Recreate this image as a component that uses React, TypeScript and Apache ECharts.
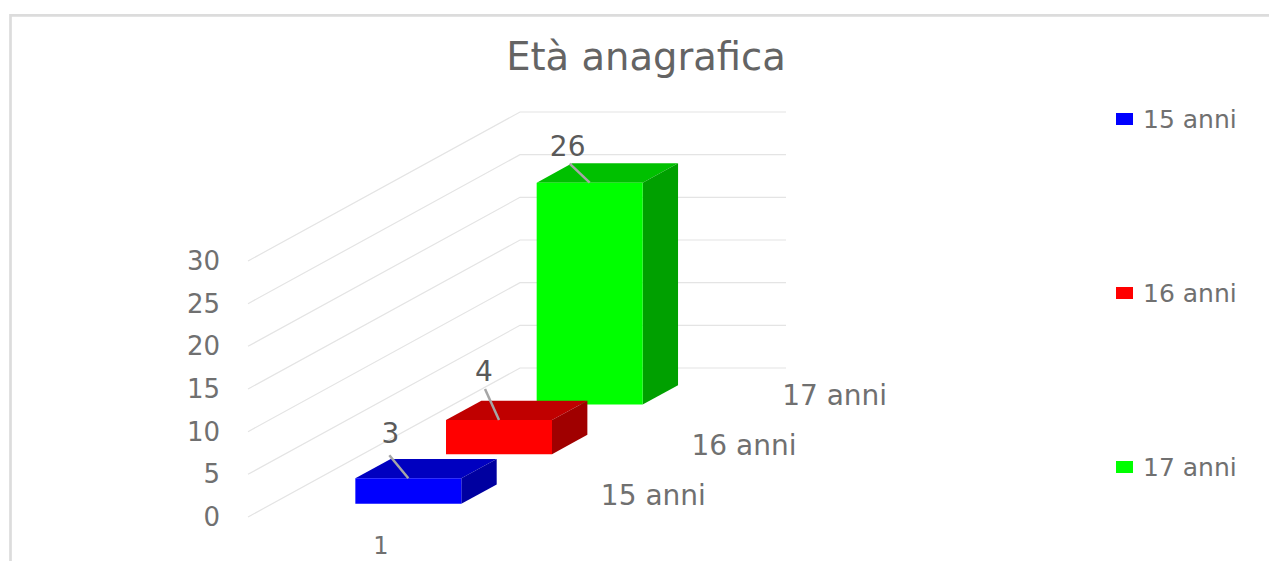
import React, { useEffect, useRef } from "react";
import * as echarts from "echarts";

const chartTitle = "Età anagrafica";
const categories = ["1"];
const seriesNames = ["15 anni", "16 anni", "17 anni"];
const seriesValues = [3, 4, 26];
const valueTicks = [0, 5, 10, 15, 20, 25, 30];

const frontColors = ["#0000ff", "#ff0000", "#00ff00"];
const topColors = ["#0000c0", "#c00000", "#00c000"];
const sideColors = ["#0000a0", "#a00000", "#00a000"];

const FONT = '"DejaVu Sans", sans-serif';
const TEXT_COLOR = "#707070";
const DEPTH_DX = 272 / 3;
const DEPTH_DY = -149 / 3;
const BAR_FRONT = 0.285;
const BAR_DEPTH = 0.39;
const BAR_HALF_WIDTH = 53;
const BAR_SHIFT_X = 1.5;
const BAR_SHIFT_Y = 1;
// leader line end and label centre relative to the middle of the bar's front top edge
const leaderOffsets = [[-19, -23], [-14, -31], [-20, -19]];
const labelOffsets = [[-18, -45], [-15, -49], [-22, -36]];

function barSeries(name: string, i: number) {
  return {
    type: "custom",
    name,
    z: 10 - i,
    clip: false,
    silent: true,
    itemStyle: { color: frontColors[i] },
    encode: { x: 0, y: 1 },
    data: [[0, seriesValues[i]]],
    renderItem: (_params: any, api: any) => {
      const base = api.coord([api.value(0), 0]);
      const top = api.coord([api.value(0), api.value(1)]);
      const d0 = i + BAR_FRONT;
      const ox = d0 * DEPTH_DX + BAR_SHIFT_X;
      const oy = d0 * DEPTH_DY + BAR_SHIFT_Y;
      const ex = BAR_DEPTH * DEPTH_DX;
      const ey = BAR_DEPTH * DEPTH_DY;
      const l = base[0] + ox - BAR_HALF_WIDTH;
      const r = base[0] + ox + BAR_HALF_WIDTH;
      const b = base[1] + oy;
      const t = top[1] + oy;
      const mx = (l + r) / 2;
      const poly = (points: number[][], fill: string) => ({
        type: "polygon",
        shape: { points },
        style: { fill },
      });
      return {
        type: "group",
        children: [
          poly([[l, t], [r, t], [r + ex, t + ey], [l + ex, t + ey]], topColors[i]),
          poly([[r, t], [r + ex, t + ey], [r + ex, b + ey], [r, b]], sideColors[i]),
          poly([[l, t], [r, t], [r, b], [l, b]], frontColors[i]),
          {
            type: "line",
            shape: { x1: mx, y1: t, x2: mx + leaderOffsets[i][0], y2: t + leaderOffsets[i][1] },
            style: { stroke: "#a6a6a6", lineWidth: 2.5 },
          },
          {
            type: "text",
            x: mx + labelOffsets[i][0],
            y: t + labelOffsets[i][1],
            style: {
              text: String(api.value(1)),
              fontSize: 28,
              fontFamily: FONT,
              fill: "#5a5a5a",
              align: "center",
              verticalAlign: "middle",
            },
          },
        ],
      };
    },
  };
}

export default function App() {
  const ref = useRef<HTMLDivElement>(null);

  useEffect(() => {
    if (!ref.current) return;
    const chart = echarts.init(ref.current, undefined, { renderer: "svg" });
    chart.setOption({
      animation: false,
      backgroundColor: "#ffffff",
      title: {
        text: chartTitle,
        left: 641,
        top: 32,
        textAlign: "center",
        textStyle: { fontSize: 38.5, fontWeight: "normal", color: "#646464", fontFamily: FONT },
      },
      legend: {
        orient: "vertical",
        left: 1111,
        top: 101,
        itemWidth: 17,
        itemHeight: 12,
        itemGap: 148,
        icon: "rect",
        data: seriesNames,
        selectedMode: false,
        textStyle: {
          fontSize: 25,
          lineHeight: 26,
          color: TEXT_COLOR,
          fontFamily: FONT,
          padding: [0, 0, 0, 5],
        },
      },
      grid: { left: 248, top: 261, width: 266, height: 256 },
      xAxis: {
        type: "category",
        data: categories,
        axisLine: { show: false },
        axisTick: { show: false },
        splitLine: { show: false },
        axisLabel: { fontSize: 24, color: TEXT_COLOR, fontFamily: FONT, margin: 17 },
      },
      yAxis: {
        type: "value",
        min: 0,
        max: 30,
        interval: 5,
        axisLine: { show: false },
        axisTick: { show: false },
        splitLine: { show: false },
        axisLabel: {
          fontSize: 26,
          color: TEXT_COLOR,
          fontFamily: FONT,
          margin: 28,
          padding: [5, 0, 0, 0],
        },
      },
      graphic: [
        {
          type: "polyline",
          silent: true,
          shape: { points: [[10.5, 561], [10.5, 15.3], [1269, 15.3]] },
          style: { stroke: "#dcdcdc", lineWidth: 2.7, fill: "none" },
        },
      ],
      series: [
        {
          type: "custom",
          name: "walls",
          z: 1,
          clip: false,
          silent: true,
          encode: { x: 0, y: 1 },
          data: valueTicks.map((v) => [0, v]),
          renderItem: (params: any, api: any) => {
            const p = api.coord([0, api.value(1)]);
            const g = params.coordSys;
            const fx = g.x;
            const bx = fx + 3 * DEPTH_DX;
            const by = p[1] + 3 * DEPTH_DY;
            return {
              type: "polyline",
              shape: { points: [[fx, p[1]], [bx, by], [bx + g.width, by]] },
              style: { stroke: "#e4e4e4", lineWidth: 1.2, fill: "none" },
            };
          },
        },
        {
          type: "custom",
          name: "depth",
          z: 1,
          clip: false,
          silent: true,
          encode: { x: 0, y: 1 },
          data: seriesNames.map((_n, i) => [0, 0, i]),
          renderItem: (params: any, api: any) => {
            const i = api.value(2);
            const p = api.coord([0, 0]);
            const g = params.coordSys;
            return {
              type: "text",
              x: g.x + g.width + (i + 0.5) * DEPTH_DX + 94,
              y: p[1] + (i + 0.5) * DEPTH_DY + 3,
              style: {
                text: seriesNames[i],
                fontSize: 28,
                fontFamily: FONT,
                fill: TEXT_COLOR,
                align: "center",
                verticalAlign: "middle",
              },
            };
          },
        },
        ...seriesNames.map(barSeries),
      ],
    });
    return () => chart.dispose();
  }, []);

  return (
    <div
      ref={ref}
      style={{ position: "fixed", left: 0, top: 0, width: 1269, height: 561 }}
    />
  );
}
